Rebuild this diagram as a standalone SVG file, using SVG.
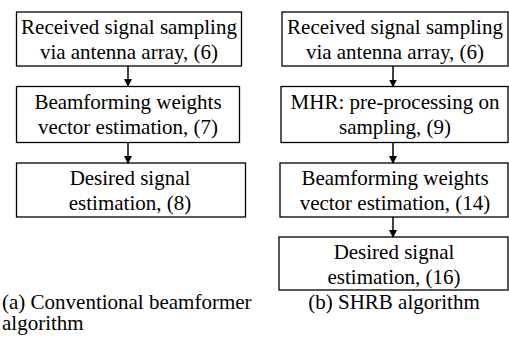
<svg xmlns="http://www.w3.org/2000/svg" width="509" height="342" viewBox="0 0 509 342">
<defs>
<marker id="ah" markerWidth="8" markerHeight="8" refX="7" refY="4" orient="auto" markerUnits="userSpaceOnUse" viewBox="0 0 8 8">
<path d="M0,0 L8,4 L0,8 Z" fill="#000"/>
</marker>
</defs>
<g id="a1"><rect x="16.5" y="12" width="225" height="54" fill="#fff" stroke="#000" stroke-width="1.3"/><text style="font-family:Times New Roman;font-size:21px" text-anchor="middle" x="129" y="34">Received signal sampling</text><text style="font-family:Times New Roman;font-size:21px" text-anchor="middle" x="129" y="59">via antenna array, (6)</text></g>
<g id="a2"><rect x="16.5" y="86.5" width="223" height="56" fill="#fff" stroke="#000" stroke-width="1.3"/><text style="font-family:Times New Roman;font-size:21px" text-anchor="middle" x="128" y="109">Beamforming weights</text><text style="font-family:Times New Roman;font-size:21px" text-anchor="middle" x="128" y="134">vector estimation, (7)</text></g>
<g id="a3"><rect x="16.5" y="163" width="229" height="54" fill="#fff" stroke="#000" stroke-width="1.3"/><text style="font-family:Times New Roman;font-size:21px" text-anchor="middle" x="130" y="185">Desired signal</text><text style="font-family:Times New Roman;font-size:21px" text-anchor="middle" x="130" y="210">estimation, (8)</text></g>
<g id="b1"><rect x="282" y="12" width="226" height="54" fill="#fff" stroke="#000" stroke-width="1.3"/><text style="font-family:Times New Roman;font-size:21px" text-anchor="middle" x="395" y="34">Received signal sampling</text><text style="font-family:Times New Roman;font-size:21px" text-anchor="middle" x="395" y="59">via antenna array, (6)</text></g>
<g id="b2"><rect x="281" y="86.5" width="227" height="56" fill="#fff" stroke="#000" stroke-width="1.3"/><text style="font-family:Times New Roman;font-size:21px" text-anchor="middle" x="395" y="109">MHR: pre-processing on</text><text style="font-family:Times New Roman;font-size:21px" text-anchor="middle" x="395" y="134">sampling, (9)</text></g>
<g id="b3"><rect x="280" y="163" width="228" height="54" fill="#fff" stroke="#000" stroke-width="1.3"/><text style="font-family:Times New Roman;font-size:21px" text-anchor="middle" x="395" y="185">Beamforming weights</text><text style="font-family:Times New Roman;font-size:21px" text-anchor="middle" x="395" y="210">vector estimation, (14)</text></g>
<g id="b4"><rect x="279" y="237" width="229" height="53" fill="#fff" stroke="#000" stroke-width="1.3"/><text style="font-family:Times New Roman;font-size:21px" text-anchor="middle" x="394" y="259">Desired signal</text><text style="font-family:Times New Roman;font-size:21px" text-anchor="middle" x="394" y="284">estimation, (16)</text></g>
<text style="font-family:Times New Roman;font-size:21px" x="2" y="309">(a) Conventional beamformer</text>
<text style="font-family:Times New Roman;font-size:21px" x="2" y="330">algorithm</text>
<text style="font-family:Times New Roman;font-size:21px" text-anchor="middle" x="394" y="309">(b) SHRB algorithm</text>
<g id="connectors" stroke="#000" stroke-width="1.5" fill="none">
<line x1="128" y1="66" x2="128" y2="86" marker-end="url(#ah)"/>
<line x1="128" y1="142.5" x2="128" y2="163" marker-end="url(#ah)"/>
<line x1="393" y1="66" x2="393" y2="86.5" marker-end="url(#ah)"/>
<line x1="393" y1="142.5" x2="393" y2="163" marker-end="url(#ah)"/>
<line x1="393" y1="217" x2="393" y2="237" marker-end="url(#ah)"/>
</g>
</svg>
